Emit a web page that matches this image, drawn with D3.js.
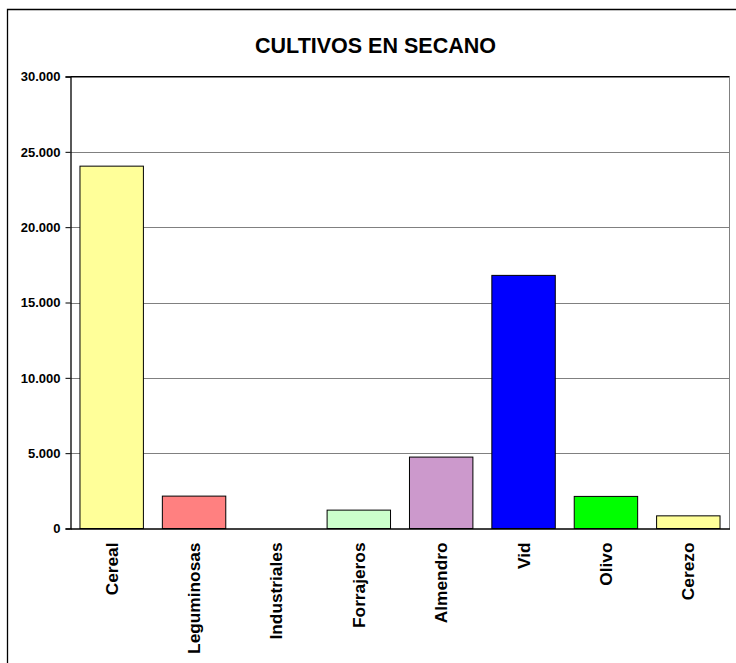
<!DOCTYPE html>
<html>
<head>
<meta charset="utf-8">
<script src="https://cdn.jsdelivr.net/npm/d3@7"></script>
<style>
  html, body { margin: 0; padding: 0; background: #fff; }
  svg { display: block; font-family: "Liberation Sans", Arial, sans-serif; }
</style>
</head>
<body>
<svg id="chart" width="736" height="663"></svg>
<script>
const categories = ["Cereal", "Leguminosas", "Industriales", "Forrajeros", "Almendro", "Vid", "Olivo", "Cerezo"];
const values = [24050, 2150, 0, 1220, 4740, 16800, 2130, 840];
const colors = ["#FFFF99", "#FF8080", "#CCCCFF", "#CCFFCC", "#CC99CC", "#0000FF", "#00FF00", "#FFFF99"];
const yTicks = [0, 5000, 10000, 15000, 20000, 25000, 30000];
const title = "CULTIVOS EN SECANO";

(function () {
const svg = d3.select("#chart");
const pLeft = 70.5, pRight = 729.5, pTop = 76.5, pBottom = 528.5;

// outer frame
svg.append("path")
  .attr("d", `M7.5,663 V9.5 H736`)
  .attr("fill", "none").attr("stroke", "#000").attr("stroke-width", 1.3);

svg.append("text")
  .attr("x", 375.5).attr("y", 53)
  .attr("text-anchor", "middle")
  .attr("font-weight", "bold").attr("font-size", 21.5)
  .text(title);

const x = d3.scaleBand().domain(categories).range([pLeft, pRight]).paddingInner(0.23).paddingOuter(0.115);
const y = d3.scaleLinear().domain([0, 30000]).range([pBottom, pTop]);

// gridlines
svg.append("g").selectAll("line").data(yTicks.filter(d => d > 0)).join("line")
  .attr("x1", pLeft).attr("x2", pRight)
  .attr("y1", d => Math.round(y(d)) + 0.5).attr("y2", d => Math.round(y(d)) + 0.5)
  .attr("stroke", "#808080").attr("stroke-width", 1);

// plot border
svg.append("line").attr("x1", pRight).attr("x2", pRight).attr("y1", pTop).attr("y2", pBottom)
  .attr("stroke", "#808080").attr("stroke-width", 1);
svg.append("line").attr("x1", pLeft).attr("x2", pRight).attr("y1", pTop).attr("y2", pTop)
  .attr("stroke", "#000").attr("stroke-width", 1);

// bars
svg.append("g").selectAll("rect").data(categories).join("rect")
  .attr("x", d => x(d))
  .attr("width", x.bandwidth())
  .attr("y", (d, i) => y(values[i]))
  .attr("height", (d, i) => pBottom - y(values[i]))
  .attr("fill", (d, i) => colors[i])
  .attr("stroke", "#000").attr("stroke-width", 1);

// y axis
const yAxis = d3.axisLeft(y).tickValues(yTicks).tickSize(5).tickPadding(5)
  .tickFormat(d => d3.format(",")(d).replace(/,/g, "."));
const ga = svg.append("g").attr("transform", `translate(${pLeft},0)`).call(yAxis);
ga.select(".domain").attr("stroke", "#000").attr("stroke-width", 1.3);
ga.selectAll(".tick line").attr("stroke", "#000");
ga.selectAll(".tick text").attr("font-family", "Liberation Sans, Arial, sans-serif")
  .attr("font-size", 13).attr("font-weight", "bold").attr("fill", "#000");

// x axis
const xAxis = d3.axisBottom(x).tickSize(0).tickPadding(0);
const gx = svg.append("g").attr("transform", `translate(0,${pBottom})`).call(xAxis);
gx.select(".domain").attr("stroke", "#000").attr("stroke-width", 1.3);
gx.selectAll(".tick text")
  .attr("font-family", "Liberation Sans, Arial, sans-serif")
  .attr("font-size", 17.3).attr("font-weight", "bold").attr("fill", "#000")
  .attr("text-anchor", "end")
  .attr("transform", "translate(6,14) rotate(-90)")
  .attr("dy", "0").attr("y", 0).attr("x", 0);
})();
</script>
</body>
</html>
